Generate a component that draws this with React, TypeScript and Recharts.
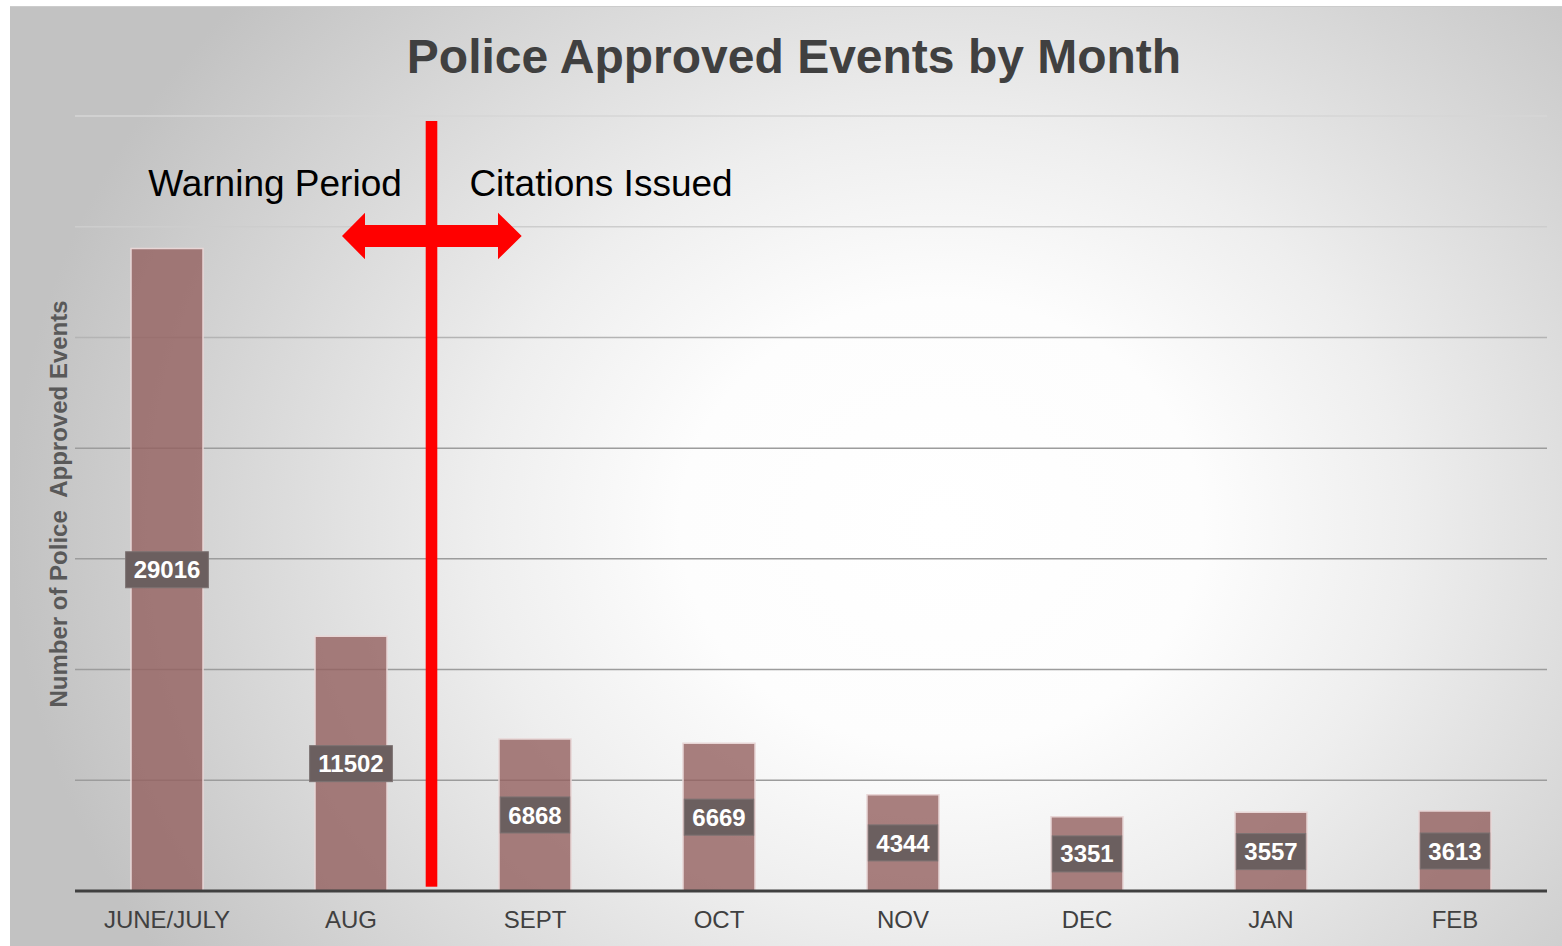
import React from "react"
import { Bar, BarChart, XAxis, YAxis, CartesianGrid, LabelList } from "recharts"

const months = ["JUNE/JULY", "AUG", "SEPT", "OCT", "NOV", "DEC", "JAN", "FEB"]
const events = [29016, 11502, 6868, 6669, 4344, 3351, 3557, 3613]
const yTicks = [0, 5000, 10000, 15000, 20000, 25000, 30000, 35000]

const chartData = months.map((month, i) => ({ month, events: events[i] }))

const FONT = "'Liberation Sans', Arial, sans-serif"

// dark value tag in the middle of each bar
function ValueBox(props: any) {
  const { x, y, width, height, value } = props
  const cx = Number(x) + Number(width) / 2
  const cy = Number(y) + Number(height) / 2
  const label = String(value)
  const boxW = label.length * 13.35 + 16
  return (
    <g>
      <rect x={cx - boxW / 2} y={cy - 18} width={boxW} height={36} fill="#6b5f5f" stroke="#7c7272" strokeWidth={1} />
      <text x={cx} y={cy + 8.6} textAnchor="middle" fill="#ffffff" fontFamily={FONT} fontWeight="bold" fontSize={24}>
        {label}
      </text>
    </g>
  )
}

// upper gridlines are paler in the original
function GridLine(props: any) {
  const { x1, x2, y1, y2, index } = props
  const color = y1 < 180 ? "#d6d6d6" : y1 < 280 ? "#cdcdcd" : y1 < 400 ? "#b4b4b4" : "#9c9c9c"
  return <line key={`g-${index}`} x1={x1} x2={x2} y1={y1} y2={y2} stroke={color} strokeWidth={1.5} />
}

export default function App() {
  return (
    <div
      style={{
        position: "absolute",
        left: 10,
        top: 6,
        width: 1552,
        height: 940,
        borderTop: "1px solid #cccccc",
        boxSizing: "border-box",
        background:
          "radial-gradient(ellipse 60% 85% at 60% 55%, #ffffff 0%, #fdfdfd 28%, #eeeeee 50%, #d8d8d8 75%, #c2c2c2 100%)",
        fontFamily: FONT,
      }}
    >
      <BarChart width={1552} height={940} data={chartData} margin={{ top: 109, right: 15, bottom: 0, left: 65 }}>
        <CartesianGrid vertical={false} horizontal={GridLine} />
        <XAxis
          dataKey="month"
          height={56}
          axisLine={{ stroke: "#404040", strokeWidth: 3 }}
          tickLine={false}
          tickSize={0}
          tickMargin={19.5}
          tick={{ fontSize: 24, fill: "#404040", fontFamily: FONT }}
          interval={0}
        />
        <YAxis hide width={0} domain={[0, 35000]} ticks={yTicks} />
        <Bar
          dataKey="events"
          barSize={72}
          fill="#93605f"
          fillOpacity={0.8}
          stroke="#e8d6d6"
          strokeWidth={1.5}
          isAnimationActive={false}
        >
          <LabelList dataKey="events" content={ValueBox} />
        </Bar>
        <text x={784} y={66} textAnchor="middle" fill="#404040" fontFamily={FONT} fontWeight="bold" fontSize={48}>
          Police Approved Events by Month
        </text>
        <text
          x={57}
          y={497}
          transform="rotate(-90 57 497)"
          textAnchor="middle"
          fill="#595959"
          fontFamily={FONT}
          fontWeight="bold"
          fontSize={24}
          style={{ whiteSpace: "pre" }}
        >
          {"Number of Police  Approved Events"}
        </text>
        <text x={265} y={189} textAnchor="middle" fill="#000000" fontFamily={FONT} fontSize={37}>
          Warning Period
        </text>
        <text x={591} y={189} textAnchor="middle" fill="#000000" fontFamily={FONT} fontSize={37}>
          Citations Issued
        </text>
        <rect x={415.7} y={114} width={11.6} height={765.7} fill="#ff0000" />
        <polygon
          points="332,229 355,205.7 355,218 488,218 488,205.7 511.7,229 488,252.3 488,240 355,240 355,252.3"
          fill="#ff0000"
        />
      </BarChart>
    </div>
  )
}
